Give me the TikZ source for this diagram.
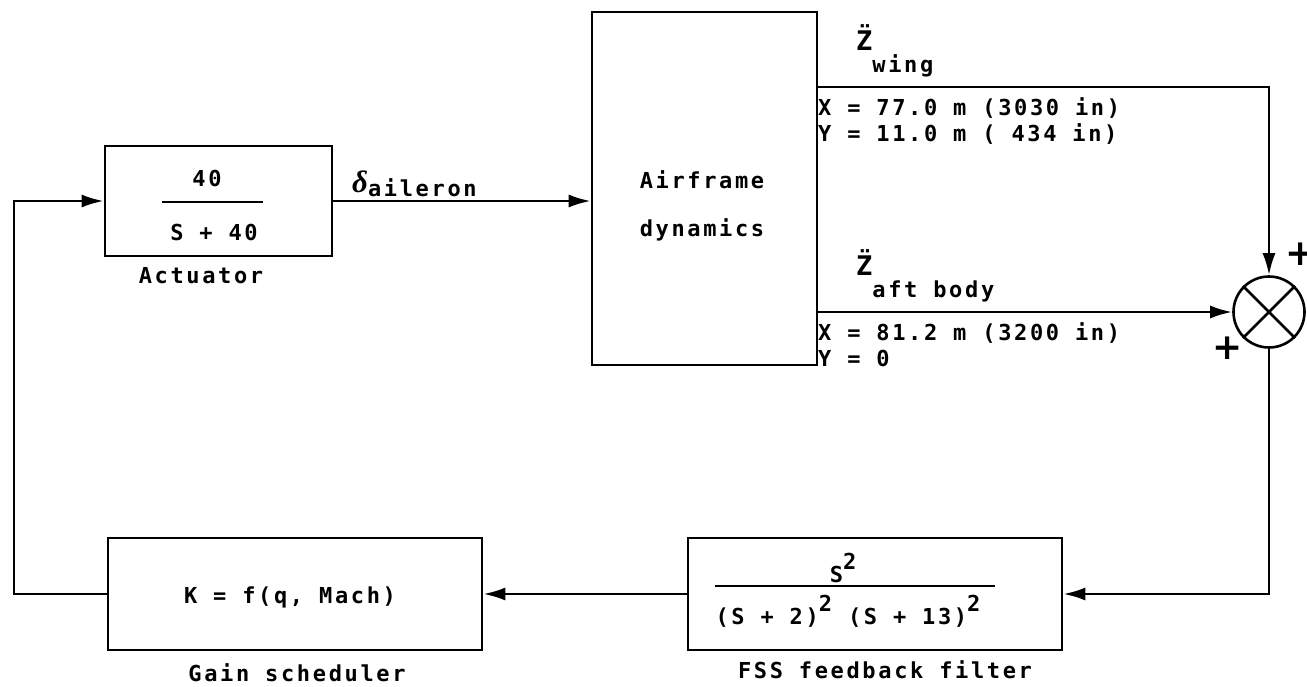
\documentclass[tikz,border=0pt]{standalone}
\usepackage{fontspec}
\newfontfamily\lgfont{DejaVu Sans Mono}[LetterSpace=12,UprightFont=* Bold]
\newfontfamily\plusfont{DejaVu Sans Bold}
\newfontfamily\grkfont{Liberation Serif Bold Italic}
\usetikzlibrary{arrows.meta}
\newcommand\spow[1]{\raisebox{13pt}{#1}}
\newcommand\ssub[1]{\raisebox{-22pt}{#1}}
\newcommand\zdd{{\fontsize{27}{27}\selectfont\"Z}}
\tikzset{
  blk/.style={draw, line width=2.6pt, inner sep=0pt},
  arr/.style={line width=2.6pt, -{Latex[length=22pt,width=13pt]}},
  wire/.style={line width=2.6pt},
  txt/.style={inner sep=0pt},
  pl/.style={inner sep=0pt, font=\plusfont\fontsize{36}{36}\selectfont}
}
\begin{document}
\begin{tikzpicture}[x=1pt,y=-1pt, font=\lgfont\fontsize{22}{26}\selectfont]
\useasboundingbox (0,0) rectangle (1307,686);
% blocks
\node[blk, minimum width=227pt, minimum height=110pt] (act) at (218.5,201) {};
\node[blk, minimum width=225pt, minimum height=353pt] (air) at (704.5,188.5) {};
\node[blk, minimum width=374pt, minimum height=112pt] (gain) at (295,594) {};
\node[blk, minimum width=374pt, minimum height=112pt] (fil) at (875,594) {};
\node[circle, draw, line width=2.6pt, minimum size=71pt, inner sep=0pt] (sum) at (1269,312) {};
\draw[wire] (sum.north west) -- (sum.south east);
\draw[wire] (sum.north east) -- (sum.south west);
% block texts
\node[txt] (a40) at (207,178) {40};
\node[txt] (as40) at (214,232) {S + 40};
\draw[wire] (162,202) -- (263,202);
\node[txt] (actl) at (201,276) {Actuator};
\node[txt] (air1) at (702,180) {Airframe};
\node[txt] (air2) at (702,230) {dynamics};
\node[txt] (gk) at (290,597) {K = f(q, Mach)};
\node[txt] (gl) at (297,673) {Gain scheduler};
\node[txt, anchor=base] (fn) at (843,582) {S\spow{2}};
\draw[wire] (715,586) -- (995,586);
\node[txt, anchor=base] (fd) at (848,624) {(S + 2)\spow{2} (S + 13)\spow{2}};
\node[txt] (fl) at (885,670) {FSS feedback filter};
% signal labels
\node[txt, anchor=base west] (dl) at (352,192) {{\grkfont\fontsize{31}{31}\selectfont δ}\raisebox{-4pt}{aileron}};
\node[txt, anchor=base west] (zw) at (856,50) {\zdd\ssub{wing}};
\node[txt, anchor=base west] (x1) at (818,115) {X = 77.0 m (3030 in)};
\node[txt, anchor=base west] (y1) at (818,141) {Y = 11.0 m ( 434 in)};
\node[txt, anchor=base west] (za) at (856,275) {\zdd\ssub{aft body}};
\node[txt, anchor=base west] (x2) at (818,340) {X = 81.2 m (3200 in)};
\node[txt, anchor=base west] (y2) at (818,366) {Y = 0};
\node[pl] (p1) at (1301,254) {+};
\node[pl] (p2) at (1228,348) {+};
% connectors
\coordinate (lx) at (14,0);
\coordinate (uy) at (0,87);
\draw[arr] (act.east) -- (act.east -| air.west);
\draw[arr] (air.east |- uy) -| (sum.north);
\draw[arr] (sum.west -| air.east) -- (sum.west);
\draw[arr] (sum.south) |- (fil.east);
\draw[arr] (fil.west) -- (gain.east);
\draw[arr] (gain.west) -- (gain.west -| lx) |- (act.west);
\end{tikzpicture}
\end{document}
